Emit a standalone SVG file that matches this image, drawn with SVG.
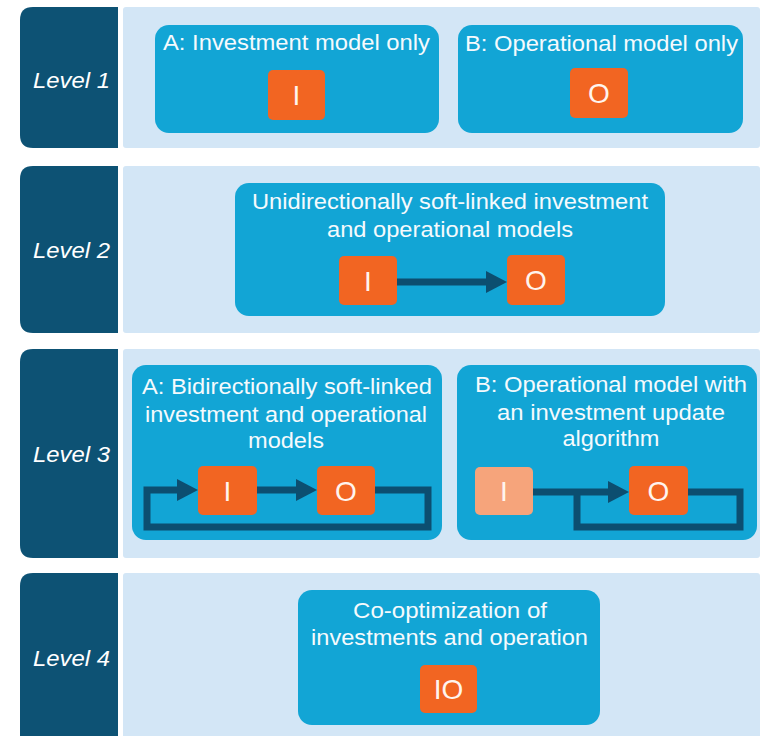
<svg xmlns="http://www.w3.org/2000/svg" width="761" height="736" viewBox="0 0 761 736">
  <style>
    .lvl { fill: #0D5274; }
    .panel { fill: #D3E6F6; }
    .box { fill: #12A5D5; }
    .m { fill: #F26522; }
    .m-soft { fill: #F6A47B; }
    .lbl { font-family: "Liberation Sans", Arial, sans-serif; font-size: 22px; font-style: italic; fill: #FFFFFF; text-anchor: middle; }
    .t { font-family: "Liberation Sans", Arial, sans-serif; font-size: 22px; fill: #F5FAFD; text-anchor: middle; }
    .mt { font-family: "Liberation Sans", Arial, sans-serif; font-size: 28px; fill: #FFF4EE; text-anchor: middle; }
    .link { fill: none; stroke: #0C4E70; stroke-width: 7; stroke-linejoin: miter; stroke-linecap: butt; }
  </style>
  <defs>
    <marker id="head" markerUnits="userSpaceOnUse" markerWidth="21" markerHeight="22" refX="8" refY="11" orient="auto">
      <path d="M0,0 L21,11 L0,22 Z" fill="#0C4E70"/>
    </marker>
  </defs>

  <rect width="761" height="736" fill="#FFFFFF"/>

  <!-- Level rows: tab on the left, light panel on the right -->
  <g id="row1">
    <path class="lvl" d="M118,7 V148 H33 Q20,148 20,135 V20 Q20,7 33,7 Z"/>
    <rect class="panel" x="123" y="7" width="637" height="141" rx="3"/>
    <text class="lbl" x="71.5" y="88" textLength="77" lengthAdjust="spacingAndGlyphs">Level 1</text>
  </g>
  <g id="row2">
    <path class="lvl" d="M118,166 V333 H33 Q20,333 20,320 V179 Q20,166 33,166 Z"/>
    <rect class="panel" x="123" y="166" width="637" height="167" rx="3"/>
    <text class="lbl" x="71.5" y="258" textLength="77" lengthAdjust="spacingAndGlyphs">Level 2</text>
  </g>
  <g id="row3">
    <path class="lvl" d="M118,349 V558 H33 Q20,558 20,545 V362 Q20,349 33,349 Z"/>
    <rect class="panel" x="123" y="349" width="637" height="209" rx="3"/>
    <text class="lbl" x="71.5" y="462" textLength="77" lengthAdjust="spacingAndGlyphs">Level 3</text>
  </g>
  <g id="row4">
    <path class="lvl" d="M118,573 V745 H20 V586 Q20,573 33,573 Z"/>
    <rect class="panel" x="123" y="573" width="637" height="172" rx="3"/>
    <text class="lbl" x="71.5" y="666" textLength="77" lengthAdjust="spacingAndGlyphs">Level 4</text>
  </g>

  <!-- Level 1 -->
  <g id="l1a">
    <rect class="box" x="155" y="25" width="284" height="108" rx="14"/>
    <text class="t" x="296.5" y="50" textLength="267" lengthAdjust="spacingAndGlyphs">A: Investment model only</text>
  </g>
  <g id="l1b">
    <rect class="box" x="458" y="25" width="285" height="108" rx="14"/>
    <text class="t" x="601.5" y="51" textLength="273" lengthAdjust="spacingAndGlyphs">B: Operational model only</text>
  </g>
  <g id="l1a-i">
    <rect class="m" x="268" y="70" width="57" height="50" rx="5"/>
    <text class="mt" x="296.5" y="105">I</text>
  </g>
  <g id="l1b-o">
    <rect class="m" x="570" y="68" width="58" height="50" rx="5"/>
    <text class="mt" x="599" y="103">O</text>
  </g>

  <!-- Level 2 -->
  <g id="l2">
    <rect class="box" x="235" y="183" width="430" height="133" rx="14"/>
    <text class="t" x="450" y="209" textLength="396" lengthAdjust="spacingAndGlyphs">Unidirectionally soft-linked investment</text>
    <text class="t" x="450" y="237" textLength="246" lengthAdjust="spacingAndGlyphs">and operational models</text>
  </g>
  <g id="l2-i">
    <rect class="m" x="339" y="256" width="58" height="49" rx="5"/>
    <text class="mt" x="368" y="290.5">I</text>
  </g>
  <g id="l2-o">
    <rect class="m" x="507" y="255" width="58" height="50" rx="5"/>
    <text class="mt" x="536" y="290">O</text>
  </g>

  <!-- Level 3 -->
  <g id="l3a">
    <rect class="box" x="132" y="365" width="310" height="175" rx="14"/>
    <text class="t" x="287" y="394" textLength="290" lengthAdjust="spacingAndGlyphs">A: Bidirectionally soft-linked</text>
    <text class="t" x="286" y="422" textLength="282" lengthAdjust="spacingAndGlyphs">investment and operational</text>
    <text class="t" x="286" y="448" textLength="76" lengthAdjust="spacingAndGlyphs">models</text>
  </g>
  <g id="l3b">
    <rect class="box" x="457" y="365" width="300" height="175" rx="14"/>
    <text class="t" x="611" y="392" textLength="272" lengthAdjust="spacingAndGlyphs">B: Operational model with</text>
    <text class="t" x="611" y="420" textLength="228" lengthAdjust="spacingAndGlyphs">an investment update</text>
    <text class="t" x="611" y="446" textLength="97" lengthAdjust="spacingAndGlyphs">algorithm</text>
  </g>

  <!-- Level 4 -->
  <g id="l4">
    <rect class="box" x="298" y="590" width="302" height="135" rx="14"/>
    <text class="t" x="450" y="618" textLength="194" lengthAdjust="spacingAndGlyphs">Co-optimization of</text>
    <text class="t" x="449.5" y="645" textLength="277" lengthAdjust="spacingAndGlyphs">investments and operation</text>
  </g>
  <g id="l4-io">
    <rect class="m" x="420" y="665" width="57" height="48" rx="5"/>
    <text class="mt" x="448.5" y="699">IO</text>
  </g>

  <!-- Connectors -->
  <g id="connectors">
    <path class="link" d="M397,282 H494" marker-end="url(#head)"/>
    <path class="link" d="M375,490 H428 V527 H147 V490 H185" marker-end="url(#head)"/>
    <path class="link" d="M257,490 H304" marker-end="url(#head)"/>
    <path class="link" d="M533,492 H616" marker-end="url(#head)"/>
    <path class="link" d="M688,492 H740 V527 H577 V492"/>
  </g>

  <!-- Level 3 model boxes drawn above the loops -->
  <g id="l3a-i">
    <rect class="m" x="198" y="466" width="59" height="49" rx="5"/>
    <text class="mt" x="227.5" y="500.5">I</text>
  </g>
  <g id="l3a-o">
    <rect class="m" x="317" y="466" width="58" height="49" rx="5"/>
    <text class="mt" x="346" y="500.5">O</text>
  </g>
  <g id="l3b-i">
    <rect class="m-soft" x="475" y="467" width="58" height="48" rx="5"/>
    <text class="mt" x="504" y="501">I</text>
  </g>
  <g id="l3b-o">
    <rect class="m" x="629" y="466" width="59" height="49" rx="5"/>
    <text class="mt" x="658.5" y="500.5">O</text>
  </g>
</svg>
